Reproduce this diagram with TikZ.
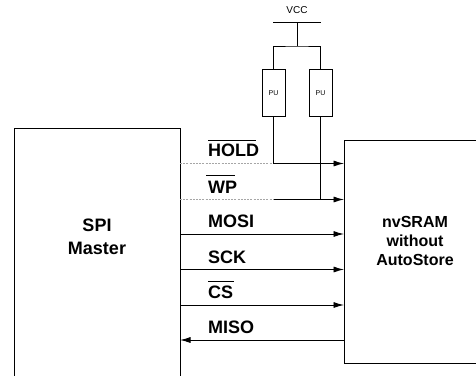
\documentclass[tikz,border=0pt]{standalone}
\usepackage{fontspec}
\setmainfont{Liberation Sans}
\usetikzlibrary{arrows.meta,calc}
\tikzset{
  x=1pt,y=-1pt,
  wire/.style={draw=black,line width=0.9pt},
  sig/.style={wire,-{Latex[length=10.5pt,width=6pt]}},
  stub/.style={draw=black!35,line width=0.7pt,dash pattern=on 2pt off 1.2pt},
  block/.style={draw=black,line width=0.9pt,fill=white,inner sep=0pt},
  blocktext/.style={align=center,inner sep=0pt},
  pu/.style={draw=black,line width=0.9pt,fill=white,inner sep=0pt,minimum width=23pt,minimum height=46.5pt,font=\fontsize{7}{8}\selectfont},
  lab/.style={anchor=base west,inner sep=0pt,font=\fontsize{18}{20}\selectfont\bfseries},
  ov/.style={draw=black,line width=0.9pt},
}
\begin{document}
\begin{tikzpicture}
\useasboundingbox (0,0) rectangle (476,375);
\clip (0,0) rectangle (476,375);
\node[block,minimum width=165.5pt,minimum height=272pt] (m) at (97.5,264.5) {};
\node[block,minimum width=142pt,minimum height=223pt] (s) at (415,251.5) {};
\node[blocktext,font=\fontsize{18}{23}\selectfont\bfseries] (mt) at (97,237) {SPI\\Master};
\node[blocktext,font=\fontsize{16}{19}\selectfont\bfseries] (st) at (415,240.5) {nvSRAM\\without\\AutoStore};
\node[pu] (p1) at (273.5,93) {PU};
\node[pu] (p2) at (320.5,93) {PU};
\node[inner sep=0pt,font=\fontsize{10}{12}\selectfont] (vcc) at (297,10.5) {VCC};
\coordinate (b1) at (273,22.5);
\coordinate (b2) at (320.5,22.5);
\coordinate (bm) at (297,22.5);
\coordinate (j) at (297,46);
\draw[wire,line width=1.2pt] (b1) -- (b2);
\draw[wire] (bm) -- (j);
\draw[wire] (p1.north) |- (j) -| (p2.north);
% signals
\coordinate (hl) at (180,163.5); \coordinate (hm) at (273.5,163.5); \coordinate (hr) at (344,163.5);
\coordinate (wl) at (180,199.5); \coordinate (wm) at (273.5,199.5); \coordinate (wj) at (320.5,199.5); \coordinate (wr) at (344,199.5);
\draw[stub] (hl) -- (hm);
\draw[stub] (wl) -- (wm);
\draw[wire] (p1.south) -- (hm);
\draw[sig] (hm) -- (hr);
\draw[sig] (wm) -- (wr);
\draw[wire] (p2.south) -- (wj);
\coordinate (a1) at (180,234); \coordinate (a2) at (344,234);
\coordinate (c1) at (180,269.5); \coordinate (c2) at (344,269.5);
\coordinate (d1) at (180,305); \coordinate (d2) at (344,305);
\coordinate (e1) at (180,340); \coordinate (e2) at (344,340);
\draw[sig] (a1) -- (a2);
\draw[sig] (c1) -- (c2);
\draw[sig] (d1) -- (d2);
\draw[sig] (e2) -- (e1);
% labels
\node[lab] (l1) at (208,156.5) {HOLD};
\draw[ov] (208,140) -- (256,140);
\node[lab] (l2) at (208,193) {WP};
\draw[ov] (206,175) -- (235,175);
\node[lab] (l3) at (208,227) {MOSI};
\node[lab] (l4) at (208,263) {SCK};
\node[lab] (l5) at (208,298) {CS};
\draw[ov] (208,281) -- (234,281);
\node[lab] (l6) at (208,333) {MISO};
\end{tikzpicture}
\end{document}
